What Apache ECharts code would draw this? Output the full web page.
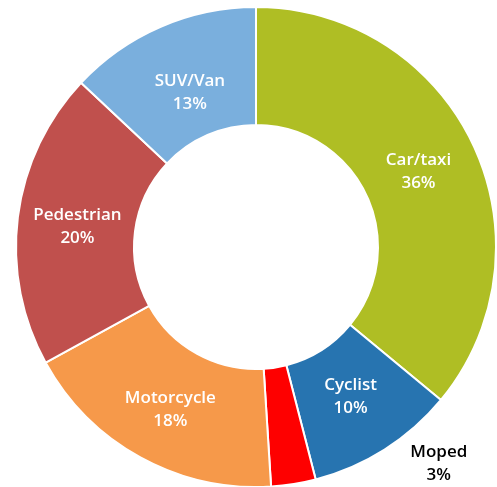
<!DOCTYPE html>
<html><head><meta charset="utf-8">
<script src="https://cdn.jsdelivr.net/npm/echarts@6/dist/echarts.min.js"></script>
<style>html,body{margin:0;padding:0;background:#fff}#c{width:497px;height:487px}</style>
</head><body><div id="c"></div>
<script>
const categories = ["Car/taxi","Cyclist","Moped","Motorcycle","Pedestrian","SUV/Van"];
const values = [36,10,3,18,20,13];
const colors = ["#afbe24","#2774b0","#fe0000","#f6994a","#c0504d","#7aafdd"];
const labelOffsets = [[-4,3],[-4,-6],[154,35],[3,1],[4,3],[7,15]];
const chart = echarts.init(document.getElementById('c'));
const data = categories.map((n,i)=>{
  const d = {name:n, value:values[i], itemStyle:{color:colors[i]}, label:{offset:labelOffsets[i]}};
  if(n==="Moped") d.label.color = "#000";
  return d;
});
chart.setOption({
  animation:false,
  series:[{
    type:'pie',
    center:[256,247],
    radius:[122,240],
    startAngle:90,
    clockwise:true,
    avoidLabelOverlap:false,
    itemStyle:{borderColor:'#fff',borderWidth:2},
    label:{show:true,position:'inside',color:'#fff',fontFamily:'Open Sans',fontWeight:600,fontSize:17,lineHeight:23,
      formatter:p=>p.name+'\n'+p.value+'%'},
    labelLine:{show:false},
    data:data
  }]
});
</script></body></html>
